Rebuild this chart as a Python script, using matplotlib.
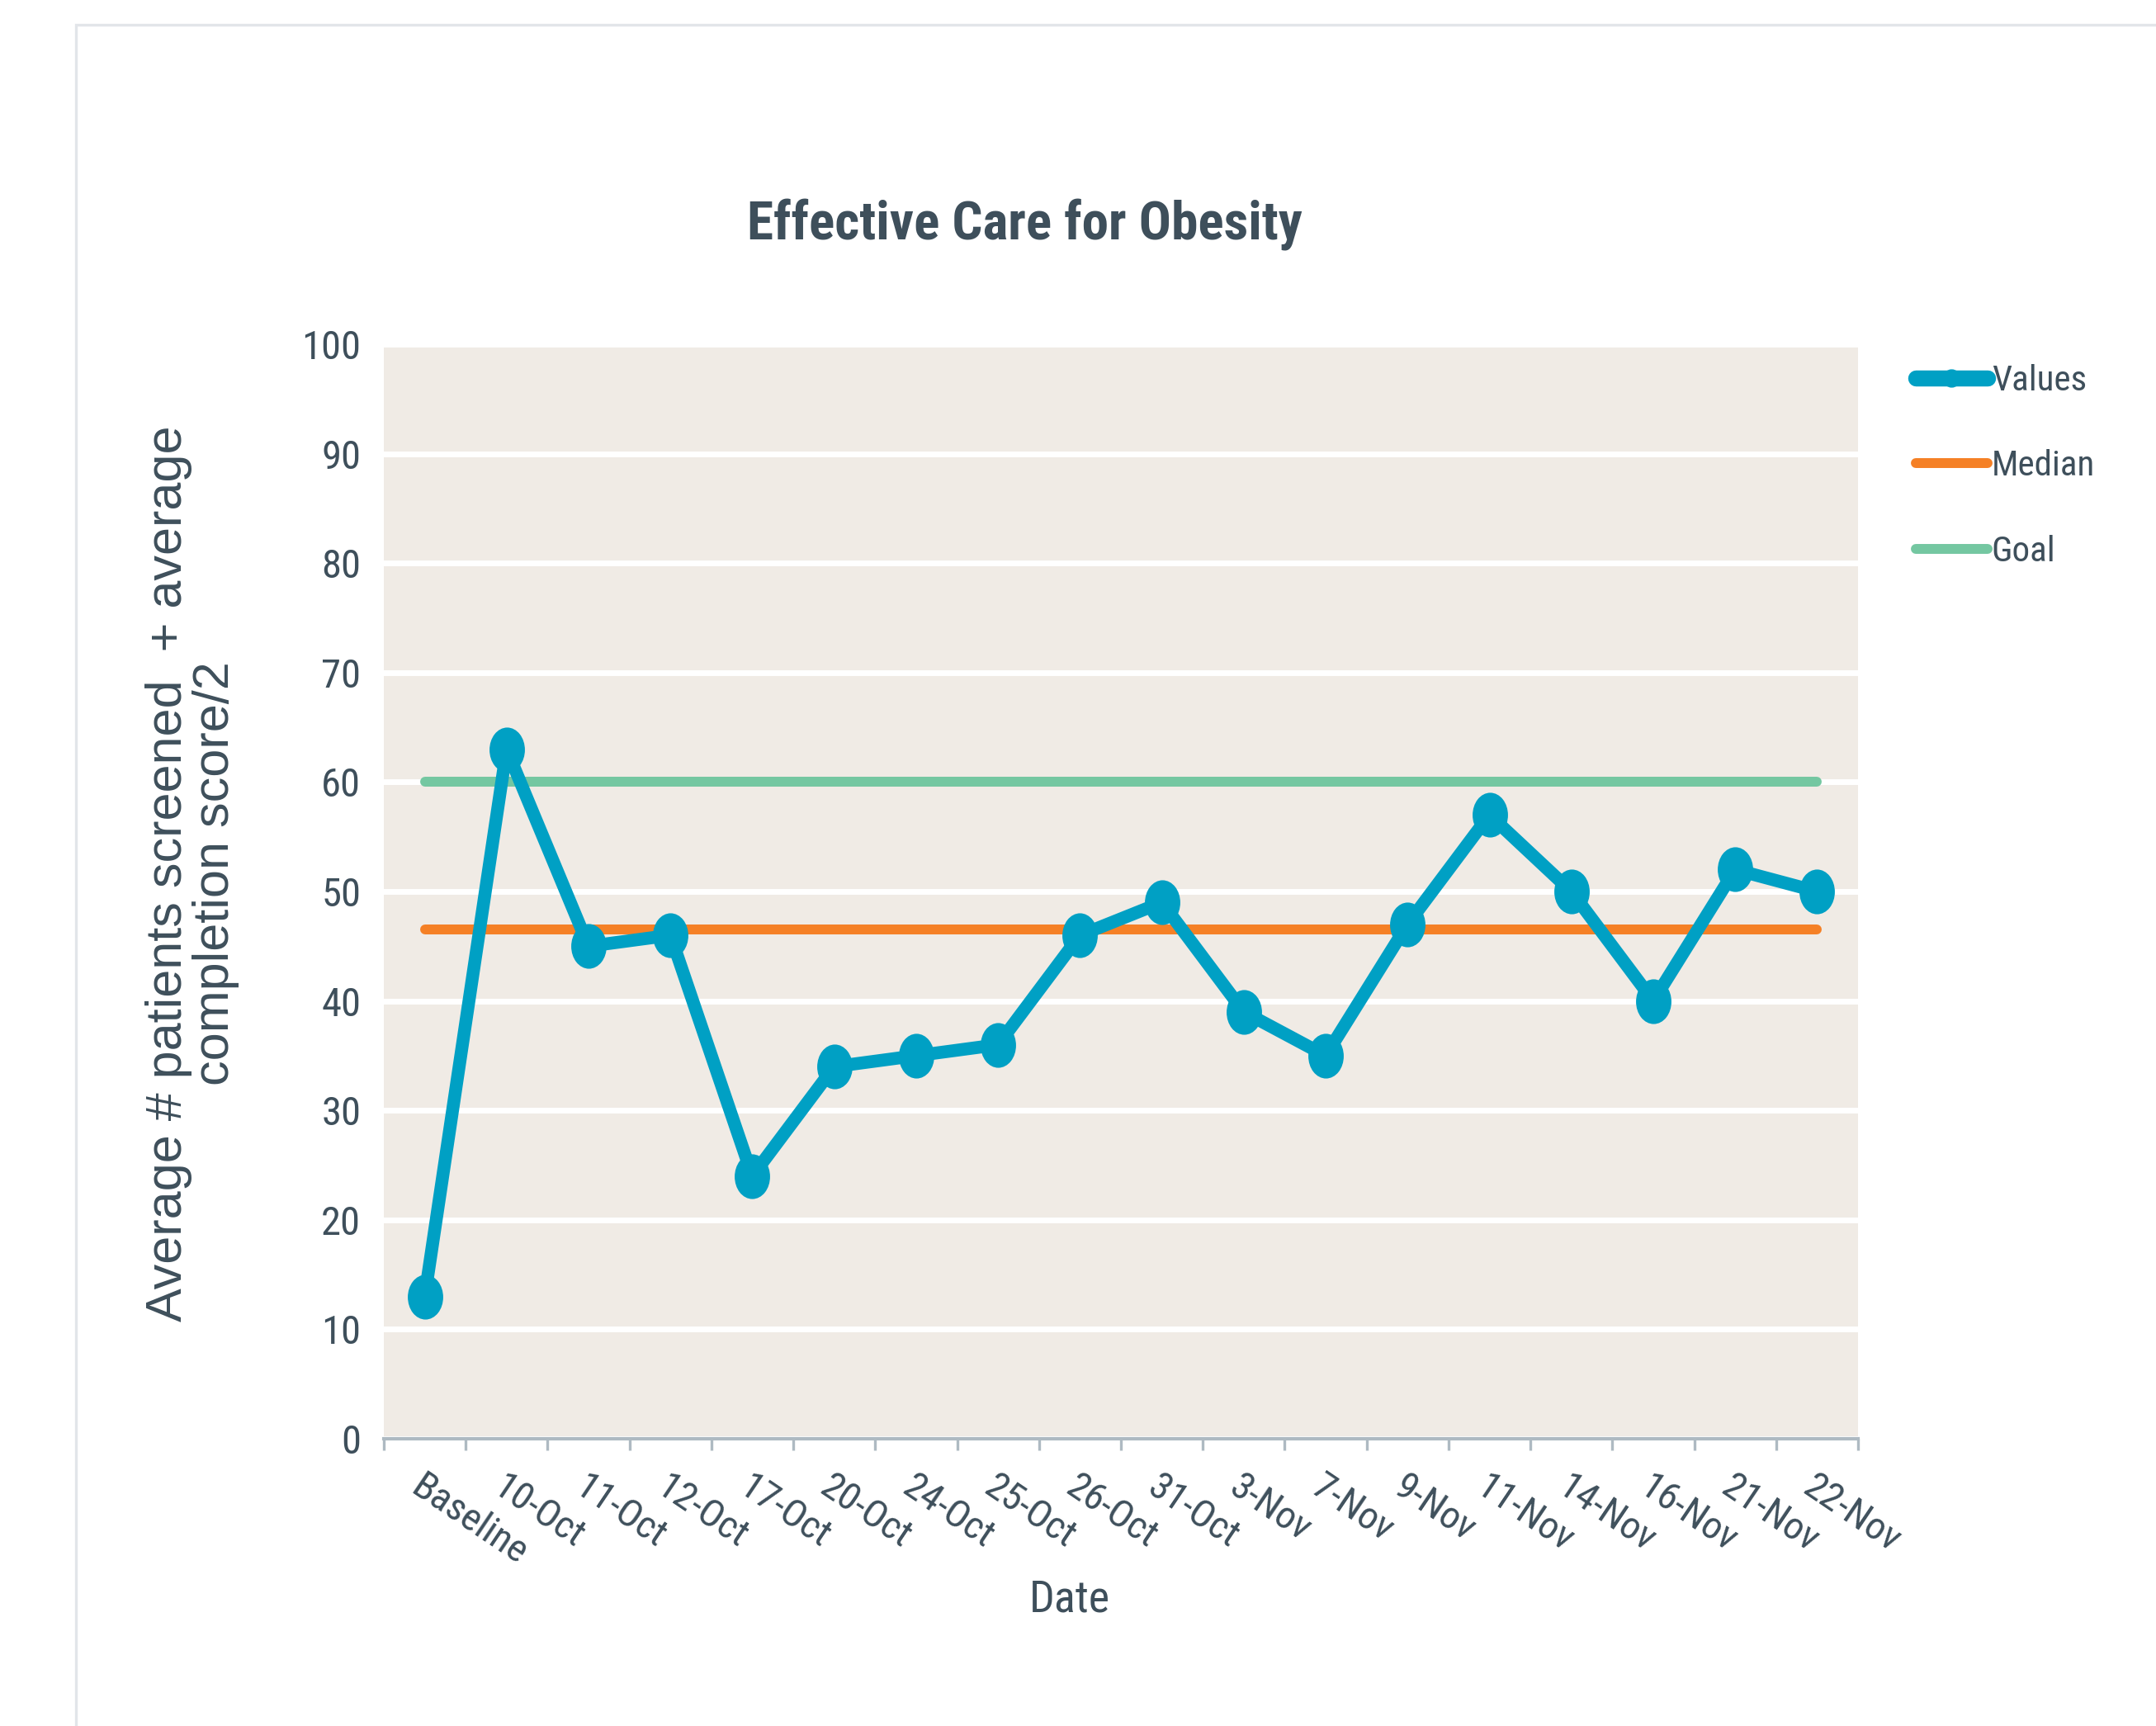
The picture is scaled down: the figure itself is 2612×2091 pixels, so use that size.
import numpy as np
import matplotlib
matplotlib.use("Agg")
import matplotlib.pyplot as plt
from matplotlib import font_manager
from matplotlib.path import Path
from matplotlib.patches import Rectangle
from matplotlib.lines import Line2D

# data
dates = ['Baseline', '10-Oct', '11-Oct', '12-Oct', '17-Oct', '20-Oct', '24-Oct', '25-Oct', '26-Oct',
         '31-Oct', '3-Nov', '7-Nov', '9-Nov', '11-Nov', '14-Nov', '16-Nov', '21-Nov', '22-Nov']
values = [13, 63, 45, 46, 24, 34, 35, 36, 46, 49, 39, 35, 47, 57, 50, 40, 52, 50]
median = [46.5] * len(dates)
goal = [60] * len(dates)
yticks = [0, 10, 20, 30, 40, 50, 60, 70, 80, 90, 100]

blue = '#00A0C4'
orange = '#F58025'
green = '#74C7A1'
txt = '#3E4F5B'
beige = '#F0EBE5'

# pick a condensed family if one is installed
names = {f.name for f in font_manager.fontManager.ttflist}
narrow = 'Liberation Sans'
for cand in ['Liberation Sans Narrow', 'Roboto Condensed', 'Open Sans Condensed']:
    if cand in names:
        narrow = cand
        break

plt.rcParams['font.family'] = [narrow, 'DejaVu Sans']

fig = plt.figure(figsize=(13.06, 10.455), dpi=200)

# card border of the page
fig.add_artist(Rectangle((92 / 2612, -0.1), 1.2, 1.1 - 30 / 2091, transform=fig.transFigure,
                         fill=False, edgecolor='#E2E5E9', lw=1.2))

ax = fig.add_axes([0.178, 0.1664, 0.8618 - 0.178, 0.8006 - 0.1664])
ax.set_facecolor(beige)

x = np.arange(len(dates))

# elliptical marker (slightly taller than wide)
circ = Path.unit_circle()
ell = Path(circ.vertices * np.array([0.78, 1.0]), circ.codes)

ax.plot(x, values, color=blue, lw=5.6, marker=ell, markersize=18.5, solid_joinstyle='round',
        zorder=4)
ax.plot(x, median, color=orange, lw=4.3, solid_capstyle='round', zorder=3)
ax.plot(x, goal, color=green, lw=4.3, solid_capstyle='round', zorder=3)

ax.set_xlim(-0.5, len(dates) - 0.5)
ax.set_ylim(0, 100)
ax.set_yticks(yticks)
ax.yaxis.grid(True, color='white', lw=2.5)
ax.set_axisbelow(True)
ax.tick_params(axis='y', length=0, pad=10, labelsize=17.5, labelcolor=txt)

for s in ['top', 'right', 'left']:
    ax.spines[s].set_visible(False)
ax.spines['bottom'].set_color('#AEBAC2')
ax.spines['bottom'].set_linewidth(1.5)

ax.set_xticks(x)
ax.set_xticklabels(dates, rotation=-34, ha='left', va='top', rotation_mode='anchor',
                   fontsize=17, color=txt)
ax.set_xticks(np.arange(-0.5, len(dates), 1), minor=True)
ax.tick_params(axis='x', which='major', length=0, pad=13)
ax.tick_params(axis='x', which='minor', length=5, width=1.2, color='#AEBAC2', direction='out')

fig.text(0.4751, 0.870, 'Effective Care for Obesity', ha='center', va='center',
         fontsize=23.5, fontweight='bold', color=txt)
fig.text(0.4962, 0.0732, 'Date', ha='center', va='center', fontsize=19.5, color=txt)
fig.text(0.0892, 0.494, 'Average # patients screened  + average\ncompletion score/2',
         rotation=90, ha='center', va='center', multialignment='center',
         fontsize=22, color=txt, family=['Liberation Sans', 'DejaVu Sans'], linespacing=0.98)

handles = [
    Line2D([], [], color=blue, lw=7, marker='o', markersize=7, solid_capstyle='round'),
    Line2D([], [], color=orange, lw=4.3, solid_capstyle='round'),
    Line2D([], [], color=green, lw=4.3, solid_capstyle='round'),
]
fig.legend(handles, ['Values', 'Median', 'Goal'], loc='upper left', bbox_to_anchor=(0.8805, 0.7995),
           frameon=False, fontsize=15.5, handlelength=2.0, handletextpad=0.12, labelspacing=1.45,
           borderpad=0, labelcolor=txt)

fig.savefig('out.png', dpi=200, facecolor='white')
